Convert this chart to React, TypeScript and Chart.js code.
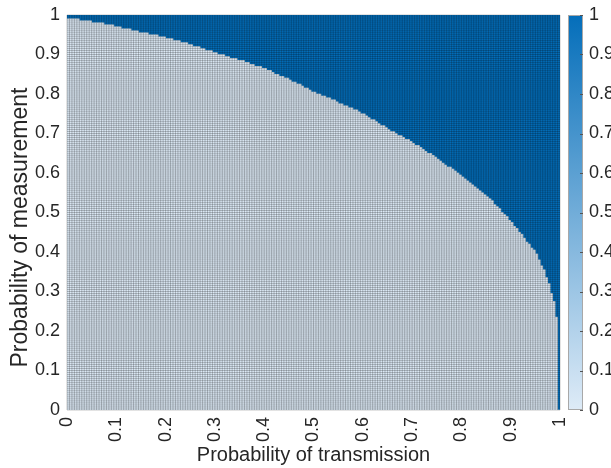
import React, { useEffect, useRef } from 'react';
import { Chart, registerables } from 'chart.js';

Chart.register(...registerables);

// Grid of the map: 200 x 200 cells of width 0.005 on both axes
const STEP = 0.005;
const N_ROWS = 200;

// For each column (Probability of transmission, 0 -> 1), number of cells
// counted from the bottom whose value is 0; every cell above it has value 1.
const LIGHT_ROWS = [
  198, 198, 198, 198, 198, 197, 197, 197, 197, 197,
  196, 196, 196, 196, 196, 195, 195, 195, 195, 194,
  194, 194, 193, 193, 193, 193, 192, 192, 192, 191,
  191, 191, 191, 190, 190, 190, 190, 189, 189, 189,
  188, 188, 188, 187, 187, 187, 186, 186, 186, 185,
  185, 184, 184, 184, 183, 183, 182, 182, 182, 181,
  181, 180, 180, 180, 179, 179, 178, 178, 178, 177,
  177, 177, 176, 176, 175, 175, 174, 174, 174, 173,
  173, 172, 172, 171, 170, 170, 169, 169, 168, 168,
  167, 166, 166, 165, 165, 164, 163, 163, 162, 161,
  161, 160, 160, 159, 159, 158, 158, 157, 157, 156,
  155, 155, 154, 154, 153, 153, 152, 152, 151, 150,
  150, 149, 148, 147, 147, 146, 145, 144, 144, 143,
  142, 141, 141, 140, 139, 139, 138, 137, 137, 136,
  135, 134, 134, 133, 132, 131, 130, 130, 129, 128,
  127, 126, 125, 124, 123, 123, 122, 121, 120, 119,
  118, 117, 116, 115, 114, 113, 112, 111, 110, 109,
  108, 107, 106, 104, 103, 102, 100, 99, 98, 96,
  95, 93, 92, 90, 89, 87, 85, 84, 82, 81,
  79, 76, 73, 71, 67, 64, 59, 55, 47, 0,
];

const CELL_VALUES = [0, 1];
const COLOR_LOW = [222, 235, 247];
const COLOR_HIGH = [4, 110, 186];

const X_TITLE = 'Probability of transmission';
const Y_TITLE = 'Probability of measurement';
const TICK_STEP = 0.1;

const TEXT = '#262626';
const FONT = "'Liberation Sans', Arial, Helvetica, sans-serif";

function colorAt(v: number): string {
  const c = COLOR_LOW.map((lo, k) => Math.round(lo + (COLOR_HIGH[k] - lo) * v));
  return `rgb(${c[0]},${c[1]},${c[2]})`;
}

const fmt = (v: any) => String(Math.round(Number(v) * 10) / 10);

const noPad = (s: any) => {
  s.paddingTop = 0;
  s.paddingBottom = 0;
  s.paddingLeft = 0;
  s.paddingRight = 0;
};

const gridPlugin = {
  id: 'cellGrid',
  afterDatasetsDraw(chart: any) {
    const { ctx, chartArea, scales } = chart;
    const x = scales.x;
    const y = scales.y;
    ctx.save();
    ctx.beginPath();
    for (let k = 0; k <= LIGHT_ROWS.length; k++) {
      const px = x.getPixelForValue(k * STEP);
      ctx.moveTo(px, chartArea.top);
      ctx.lineTo(px, chartArea.bottom);
    }
    for (let k = 0; k <= N_ROWS; k++) {
      const py = y.getPixelForValue(k * STEP);
      ctx.moveTo(chartArea.left, py);
      ctx.lineTo(chartArea.right, py);
    }
    ctx.lineWidth = 0.5;
    ctx.strokeStyle = 'rgba(0,0,0,0.45)';
    ctx.stroke();
    ctx.restore();
  },
};

const yTitlePlugin = {
  id: 'yTitle',
  afterDraw(chart: any) {
    const { ctx, chartArea } = chart;
    ctx.save();
    ctx.translate(21, (chartArea.top + chartArea.bottom) / 2 + 15);
    ctx.rotate(-Math.PI / 2);
    ctx.font = `23px ${FONT}`;
    ctx.fillStyle = TEXT;
    ctx.textAlign = 'center';
    ctx.textBaseline = 'middle';
    ctx.fillText(Y_TITLE, 0, 0);
    ctx.restore();
  },
};

const colorbarPlugin = {
  id: 'colorbar',
  afterDraw(chart: any) {
    const { ctx, chartArea, scales } = chart;
    const cb = scales.cb;
    const top = cb.getPixelForValue(1);
    const bot = cb.getPixelForValue(0);
    const x0 = chartArea.right + 8;
    const w = 15;
    ctx.save();
    const g = ctx.createLinearGradient(0, bot, 0, top);
    g.addColorStop(0, colorAt(0));
    g.addColorStop(1, colorAt(1));
    ctx.fillStyle = g;
    ctx.fillRect(x0, top, w, bot - top);
    ctx.lineWidth = 1;
    ctx.strokeStyle = '#a8a8a8';
    ctx.strokeRect(x0 + 0.5, top + 0.5, w - 1, bot - top - 1);
    ctx.beginPath();
    cb.ticks.forEach((t: any) => {
      const py = Math.round(cb.getPixelForValue(t.value)) + 0.5;
      ctx.moveTo(x0 + w - 3, py);
      ctx.lineTo(x0 + w, py);
    });
    ctx.strokeStyle = '#555';
    ctx.stroke();
    ctx.restore();
  },
};

export default function App() {
  const ref = useRef<HTMLCanvasElement | null>(null);

  useEffect(() => {
    if (!ref.current) return;
    const lowData = LIGHT_ROWS.map((n, i) => ({ x: (i + 0.5) * STEP, y: [0, n * STEP] }));
    const highData = LIGHT_ROWS.map((n, i) => ({ x: (i + 0.5) * STEP, y: [n * STEP, N_ROWS * STEP] }));
    const barCommon = {
      grouped: false,
      barPercentage: 1,
      categoryPercentage: 1,
      borderWidth: 0,
    };
    const chart = new Chart(ref.current, {
      type: 'bar',
      data: {
        datasets: [
          { ...barCommon, label: String(CELL_VALUES[0]), data: lowData as any, backgroundColor: colorAt(CELL_VALUES[0]) },
          { ...barCommon, label: String(CELL_VALUES[1]), data: highData as any, backgroundColor: colorAt(CELL_VALUES[1]) },
        ],
      },
      options: {
        responsive: false,
        animation: false,
        layout: { padding: { top: 15, right: 0, left: 0, bottom: 0 } },
        plugins: {
          legend: { display: false },
          tooltip: { enabled: false },
        },
        scales: {
          x: {
            type: 'linear',
            min: 0,
            max: 1,
            offset: false,
            grid: { display: false, drawTicks: false, offset: false },
            border: { display: false },
            ticks: {
              stepSize: TICK_STEP,
              minRotation: 90,
              maxRotation: 90,
              padding: 7,
              color: TEXT,
              font: { family: FONT, size: 18 },
              callback: fmt,
            },
            title: {
              display: true,
              text: X_TITLE,
              color: TEXT,
              font: { family: FONT, size: 20 },
              padding: { top: 0, bottom: 1 },
            },
            afterFit: (s: any) => { s.height = 58; noPad(s); },
          },
          y: {
            type: 'linear',
            min: 0,
            max: 1,
            grid: { display: false, drawTicks: false },
            border: { display: false },
            ticks: {
              stepSize: TICK_STEP,
              padding: 7,
              color: TEXT,
              font: { family: FONT, size: 18 },
              callback: fmt,
            },
            title: { display: false, text: Y_TITLE },
            afterFit: (s: any) => { s.width = 67; noPad(s); },
          },
          cb: {
            type: 'linear',
            position: 'right',
            display: true,
            min: 0,
            max: 1,
            grid: { display: false, drawTicks: false },
            border: { display: false },
            ticks: {
              stepSize: TICK_STEP,
              padding: 29,
              color: TEXT,
              font: { family: FONT, size: 18 },
              callback: fmt,
            },
            afterFit: (s: any) => { s.width = 51; noPad(s); },
          },
        },
      } as any,
      plugins: [gridPlugin, colorbarPlugin, yTitlePlugin],
    });
    return () => chart.destroy();
  }, []);

  return (
    <div style={{ position: 'absolute', left: 0, top: 0, width: 611, height: 468, background: '#fff' }}>
      <canvas ref={ref} width={611} height={468} style={{ display: 'block' }} />
    </div>
  );
}
